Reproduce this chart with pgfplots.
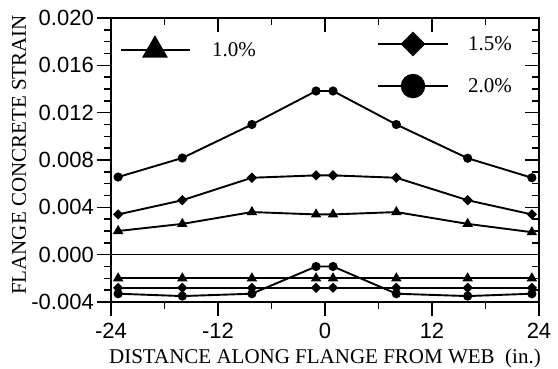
\documentclass[border=0pt]{standalone}
\usepackage{pgfplots}
\pgfplotsset{compat=1.18}
\usepackage{fontspec}
\setmainfont{Liberation Serif}
\newfontfamily\arialfont{Liberation Sans}
\begin{document}
\fontsize{21}{24}\selectfont
\begin{tikzpicture}
\pgfplotsset{
  common/.style={
    scale only axis, width=428pt, height=284pt,
    xmin=-24, xmax=24, ymin=-0.004, ymax=0.020,
    xtick={-24,-12,0,12,24}, minor xtick={-18,-6,6,18},
    ytick={-0.004,0,0.004,0.008,0.012,0.016,0.020},
    minor y tick num=3,
    scaled y ticks=false, scaled x ticks=false,
    axis line style={line width=1.8pt},
    every tick/.style={line width=1.4pt, black},
  }
}
\begin{axis}[common, name=main,
  tick align=outside,
  xtick pos=left, ytick pos=left,
  major tick length=14pt, minor tick length=7pt,
  yticklabel style={/pgf/number format/fixed, /pgf/number format/fixed zerofill, /pgf/number format/precision=3, font=\arialfont\fontsize{22}{25}\selectfont, /pgf/number format/assume math mode=true, inner sep=3pt},
  xticklabel style={font=\arialfont\fontsize{22}{25}\selectfont, /pgf/number format/assume math mode=true},
  xlabel={DISTANCE ALONG FLANGE FROM WEB\ \ (in.)},
  ylabel={FLANGE CONCRETE STRAIN},
  xlabel style={at={(axis description cs:0.5,-0.2148)}, anchor=base},
  ylabel style={at={(axis description cs:-0.1986,0.518)}, anchor=base},
  clip=false,
]
% zero line
\addplot[black, line width=0.8pt] coordinates {(-24,0) (24,0)};
% positive
\addplot[black, line width=1.9pt, mark=*, mark size=3.6pt] coordinates {
(-23.2,0.00656) (-16,0.00817) (-8.2,0.0110) (-1,0.01383) (0.9,0.01383) (8,0.0110) (16,0.00815) (23.2,0.0065)};
\addplot[black, line width=1.9pt, mark=square*, mark size=2.7pt, mark options={rotate=45}] coordinates {
(-23.2,0.0034) (-16,0.0046) (-8.2,0.0065) (-1,0.0067) (0.9,0.0067) (8,0.0065) (16,0.0046) (23.2,0.0034)};
\addplot[black, line width=1.9pt, mark=triangle*, mark size=4.2pt] coordinates {
(-23.2,0.0020) (-16,0.0026) (-8.2,0.0036) (-1,0.0034) (0.9,0.0034) (8,0.0036) (16,0.0026) (23.2,0.0019)};
% negative
\addplot[black, line width=1.9pt, mark=triangle*, mark size=4.2pt] coordinates {
(-23.2,-0.0020) (-16,-0.0020) (-8.2,-0.0020) (-1,-0.0020) (0.9,-0.0020) (8,-0.0020) (16,-0.0020) (23.2,-0.0020)};
\addplot[black, line width=1.9pt, mark=square*, mark size=2.7pt, mark options={rotate=45}] coordinates {
(-23.2,-0.0028) (-16,-0.0028) (-8.2,-0.0028) (-1,-0.0028) (0.9,-0.0028) (8,-0.0028) (16,-0.0028) (23.2,-0.0028)};
\addplot[black, line width=1.9pt, mark=*, mark size=3.6pt] coordinates {
(-23.2,-0.0033) (-16,-0.0035) (-8.2,-0.0033) (-1,-0.0010) (0.9,-0.0010) (8,-0.0033) (16,-0.0035) (23.2,-0.0033)};
% legend samples
\addplot[black, line width=1.4pt, mark=triangle*, mark size=13.5pt, mark indices={2}] coordinates {(-22.88,0.01729) (-19.07,0.01729) (-15.14,0.01729)};
\addplot[black, line width=1.4pt, mark=square*, mark size=8.1pt, mark options={rotate=45}, mark indices={2}] coordinates {(5.94,0.0178) (9.87,0.0178) (13.79,0.0178)};
\addplot[black, line width=1.4pt, mark=*, mark size=11.5pt, mark indices={2}] coordinates {(5.94,0.01425) (9.87,0.01425) (13.79,0.01425)};
\node[anchor=west, inner sep=0pt] at (axis cs:-12.67,0.01729) {1.0\%};
\node[anchor=west, inner sep=0pt] at (axis cs:16.04,0.0178) {1.5\%};
\node[anchor=west, inner sep=0pt] at (axis cs:16.04,0.01425) {2.0\%};
\end{axis}
\begin{axis}[common,
  tick align=inside,
  xtick pos=right, ytick pos=right,
  major tick length=14pt, minor tick length=7pt,
  xticklabels={}, yticklabels={},
  axis line style={draw=none},
]
\end{axis}
\pgfresetboundingbox
\path ([xshift=-111pt,yshift=-67pt]main.south west) rectangle ++(558pt,369pt);
\end{tikzpicture}
\end{document}
